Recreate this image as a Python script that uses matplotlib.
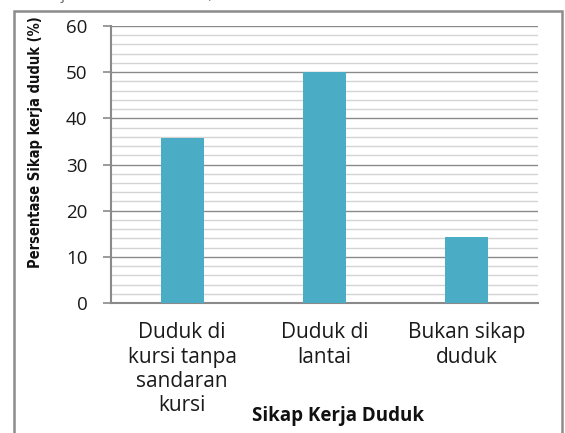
import matplotlib
matplotlib.use('Agg')
import matplotlib.pyplot as plt
from matplotlib.patches import Rectangle

# Data
categories = ['Duduk di\nkursi tanpa\nsandaran\nkursi', 'Duduk di\nlantai', 'Bukan sikap\nduduk']
values = [35.7, 50.0, 14.3]
y_major = [0, 10, 20, 30, 40, 50, 60]
y_minor = list(range(0, 61, 2))

W, H = 565, 433
fig = plt.figure(figsize=(W / 100, H / 100), dpi=100)
fig.patch.set_facecolor('white')

# outer frame (bottom edge is cut off in the reference)
fig.patches.append(Rectangle((14 / W, -0.05), (562 - 14) / W, 1 - 11 / H + 0.05,
                             transform=fig.transFigure, fill=False,
                             edgecolor='#8c8c8c', linewidth=1.8))

# cropped caption text above the frame (only its lower edge shows)
fig.text(15 / W, 1 + 1 / H, 'hasil uji statistik   sebesar 0,000.', fontsize=11,
         family='Open Sans', color='#666666', va='baseline')

ax = fig.add_axes([111 / W, 1 - 303 / H, (538 - 111) / W, (303 - 26) / H])

x = range(len(categories))
ax.bar(x, values, width=0.30, color='#4BACC6', zorder=3)

ax.set_xlim(-0.5, len(categories) - 0.5)
ax.set_ylim(0, 60)
ax.set_yticks(y_major)
ax.set_yticks(y_minor, minor=True)
ax.set_xticks(list(x))
ax.set_xticklabels(categories, fontsize=15, family='Open Sans', color='#1a1a1a')
ax.set_yticklabels([str(v) for v in y_major], fontsize=13.5, family='Open Sans', color='#1a1a1a')

ax.grid(axis='y', which='major', color='#8a8a8a', linewidth=1.0, zorder=0)
ax.grid(axis='y', which='minor', color='#d4d4d4', linewidth=1.0, zorder=0)
ax.set_axisbelow(True)

for s in ['top', 'right']:
    ax.spines[s].set_visible(False)
ax.spines['left'].set_color('#8a8a8a')
ax.spines['left'].set_linewidth(1.5)
ax.spines['bottom'].set_color('#8a8a8a')
ax.spines['bottom'].set_linewidth(1.5)

ax.tick_params(axis='y', which='major', length=6, width=1.2, color='#8a8a8a', pad=11)
ax.tick_params(axis='y', which='minor', length=0)
ax.tick_params(axis='x', length=0, pad=14)

fig.text(36 / W, 1 - 142 / H, 'Persentase Sikap kerja duduk (%)', rotation=90,
         ha='center', va='center', fontsize=10.5, fontweight='bold',
         fontstretch='condensed', family='DejaVu Sans', color='#111111')
fig.text(338 / W, 1 - 416 / H, 'Sikap Kerja Duduk', ha='center', va='center',
         fontsize=13.5, fontweight='bold', family='Open Sans', color='#111111')

fig.savefig('out.png', dpi=100, facecolor='white')
